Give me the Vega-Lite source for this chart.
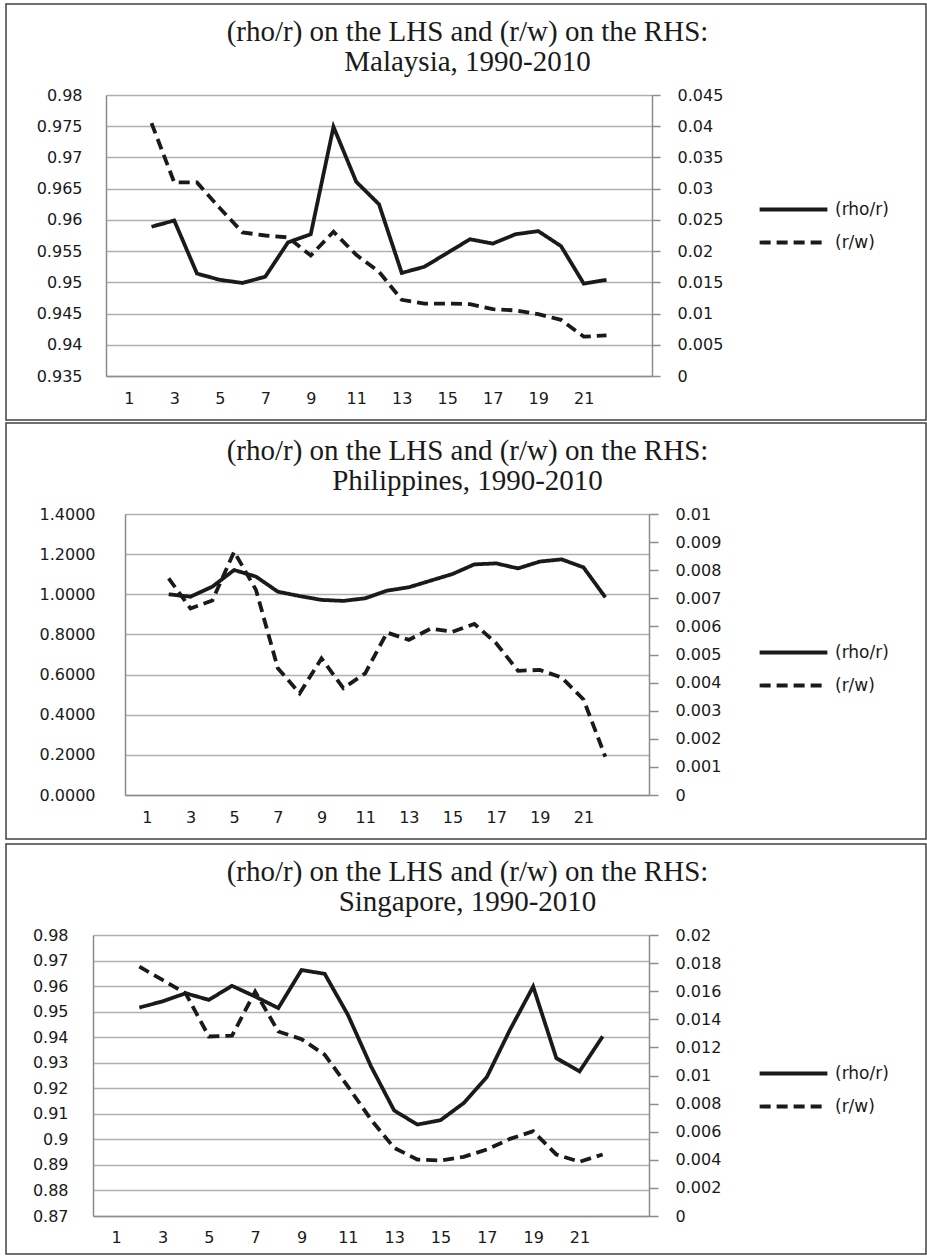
{
  "$schema": "https://vega.github.io/schema/vega-lite/v6.json",
  "padding": {"left": 5, "top": 3, "right": 0, "bottom": 0},
  "spacing": 1,
  "background": "white",
  "config": {
    "view": {"stroke": "#404040", "strokeWidth": 1.5},
    "axis": {"labelFont": "DejaVu Sans", "labelFontSize": 16, "labelColor": "#1a1a1a", "domainColor": "#8c8c8c", "domainWidth": 1.5, "gridColor": "#b0b0b0", "gridWidth": 1.3, "tickColor": "#8c8c8c", "tickWidth": 1.5, "titleFont": "Liberation Serif", "titleFontSize": 29, "titleFontWeight": "normal", "titleColor": "#1a1a1a", "titleLineHeight": 30},
    "legend": {"labelFont": "DejaVu Sans", "labelFontSize": 17, "labelColor": "#1a1a1a"}
  },
  "resolve": {"scale": {"strokeDash": "independent"}, "legend": {"strokeDash": "independent"}},
  "datasets": {
    "malaysia": [
      {"t": 2, "rho": 0.9589, "rw": 0.0405},
      {"t": 3, "rho": 0.9599, "rw": 0.0310},
      {"t": 4, "rho": 0.9514, "rw": 0.0310},
      {"t": 5, "rho": 0.9504, "rw": 0.0269},
      {"t": 6, "rho": 0.9499, "rw": 0.0230},
      {"t": 7, "rho": 0.9509, "rw": 0.0225},
      {"t": 8, "rho": 0.9564, "rw": 0.0222},
      {"t": 9, "rho": 0.9577, "rw": 0.0193},
      {"t": 10, "rho": 0.9749, "rw": 0.0231},
      {"t": 11, "rho": 0.9661, "rw": 0.0194},
      {"t": 12, "rho": 0.9625, "rw": 0.0167},
      {"t": 13, "rho": 0.9515, "rw": 0.0122},
      {"t": 14, "rho": 0.9525, "rw": 0.0116},
      {"t": 15, "rho": 0.9547, "rw": 0.0116},
      {"t": 16, "rho": 0.9569, "rw": 0.0115},
      {"t": 17, "rho": 0.9562, "rw": 0.0107},
      {"t": 18, "rho": 0.9577, "rw": 0.0105},
      {"t": 19, "rho": 0.9582, "rw": 0.0099},
      {"t": 20, "rho": 0.9558, "rw": 0.0090},
      {"t": 21, "rho": 0.9498, "rw": 0.0063},
      {"t": 22, "rho": 0.9504, "rw": 0.0065}
    ],
    "philippines": [
      {"t": 2, "rho": 1.000, "rw": 0.00771},
      {"t": 3, "rho": 0.988, "rw": 0.00664},
      {"t": 4, "rho": 1.038, "rw": 0.00692},
      {"t": 5, "rho": 1.121, "rw": 0.00866},
      {"t": 6, "rho": 1.088, "rw": 0.00730},
      {"t": 7, "rho": 1.013, "rw": 0.00451},
      {"t": 8, "rho": 0.991, "rw": 0.00362},
      {"t": 9, "rho": 0.972, "rw": 0.00486},
      {"t": 10, "rho": 0.967, "rw": 0.00380},
      {"t": 11, "rho": 0.980, "rw": 0.00433},
      {"t": 12, "rho": 1.018, "rw": 0.00578},
      {"t": 13, "rho": 1.035, "rw": 0.00552},
      {"t": 14, "rho": 1.068, "rw": 0.00592},
      {"t": 15, "rho": 1.101, "rw": 0.00581},
      {"t": 16, "rho": 1.149, "rw": 0.00609},
      {"t": 17, "rho": 1.154, "rw": 0.00540},
      {"t": 18, "rho": 1.129, "rw": 0.00442},
      {"t": 19, "rho": 1.163, "rw": 0.00445},
      {"t": 20, "rho": 1.174, "rw": 0.00418},
      {"t": 21, "rho": 1.134, "rw": 0.00340},
      {"t": 22, "rho": 0.985, "rw": 0.00136}
    ],
    "singapore": [
      {"t": 2, "rho": 0.9516, "rw": 0.01775},
      {"t": 3, "rho": 0.9540, "rw": 0.01680},
      {"t": 4, "rho": 0.9572, "rw": 0.01585},
      {"t": 5, "rho": 0.9546, "rw": 0.01278},
      {"t": 6, "rho": 0.9601, "rw": 0.01283},
      {"t": 7, "rho": 0.9559, "rw": 0.01597},
      {"t": 8, "rho": 0.9514, "rw": 0.01313},
      {"t": 9, "rho": 0.9663, "rw": 0.01259},
      {"t": 10, "rho": 0.9648, "rw": 0.01148},
      {"t": 11, "rho": 0.9488, "rw": 0.00923},
      {"t": 12, "rho": 0.9286, "rw": 0.00686},
      {"t": 13, "rho": 0.9113, "rw": 0.00485},
      {"t": 14, "rho": 0.9058, "rw": 0.00402},
      {"t": 15, "rho": 0.9075, "rw": 0.00395},
      {"t": 16, "rho": 0.9142, "rw": 0.00421},
      {"t": 17, "rho": 0.9244, "rw": 0.00473},
      {"t": 18, "rho": 0.9429, "rw": 0.00549},
      {"t": 19, "rho": 0.9598, "rw": 0.00603},
      {"t": 20, "rho": 0.9318, "rw": 0.00438},
      {"t": 21, "rho": 0.9266, "rw": 0.00386},
      {"t": 22, "rho": 0.9403, "rw": 0.00438}
    ]
  },
  "vconcat": [
    {
      "width": 920, "height": 416,
      "data": {"name": "malaysia"},
      "resolve": {"scale": {"y": "independent"}},
      "layer": [
        {
          "mark": {"type": "line", "color": "#1a1a1a", "strokeWidth": 3.8},
          "encoding": {
            "x": {"field": "t", "type": "quantitative", "scale": {"domain": [0.5, 22.5], "range": [100, 646]}, "axis": {"orient": "bottom", "offset": -44, "values": [1,3,5,7,9,11,13,15,17,19,21], "ticks": false, "labelPadding": 14, "grid": false, "title": null}},
            "y": {"field": "rho", "type": "quantitative", "scale": {"domain": [0.935, 0.98], "range": [372, 91], "zero": false, "nice": false}, "axis": {"orient": "left", "offset": -100, "values": [0.935,0.94,0.945,0.95,0.955,0.96,0.965,0.97,0.975,0.98], "format": "~g", "ticks": false, "labelPadding": 24, "grid": true, "title": ["(rho/r) on the LHS and (r/w) on the RHS:", "Malaysia, 1990-2010"], "titleAngle": 0, "titleX": 361, "titleY": 13, "titleAlign": "center", "titleBaseline": "top"}},
            "strokeDash": {"datum": "(rho/r)", "type": "nominal", "scale": {"domain": ["(rho/r)", "(r/w)"], "range": [[1, 0], [11, 6]]}, "legend": {"orient": "none", "legendX": 779, "legendY": 197, "title": null, "symbolType": "M-30,0H30", "symbolSize": 5.1, "symbolStrokeWidth": 3.8, "symbolStrokeColor": "#1a1a1a", "labelOffset": 33, "rowPadding": 15, "padding": 0}}
          }
        },
        {
          "mark": {"type": "line", "color": "#1a1a1a", "strokeWidth": 3.8},
          "encoding": {
            "x": {"field": "t", "type": "quantitative"},
            "y": {"field": "rw", "type": "quantitative", "scale": {"domain": [0, 0.045], "range": [372, 91], "zero": false, "nice": false}, "axis": {"orient": "right", "offset": -274, "values": [0,0.005,0.01,0.015,0.02,0.025,0.03,0.035,0.04,0.045], "format": "~g", "ticks": true, "tickSize": 8, "labelPadding": 17, "grid": false, "title": null}},
            "strokeDash": {"datum": "(r/w)", "type": "nominal"}
          }
        }
      ]
    },
    {
      "spacing": 3,
      "resolve": {"scale": {"strokeDash": "independent"}, "legend": {"strokeDash": "independent"}},
      "vconcat": [
        {
          "width": 920, "height": 416,
          "data": {"name": "philippines"},
          "resolve": {"scale": {"y": "independent"}},
          "layer": [
            {
              "mark": {"type": "line", "color": "#1a1a1a", "strokeWidth": 3.8},
              "encoding": {
                "x": {"field": "t", "type": "quantitative", "scale": {"domain": [0.5, 22.5], "range": [119, 643]}, "axis": {"orient": "bottom", "offset": -44, "values": [1,3,5,7,9,11,13,15,17,19,21], "ticks": false, "labelPadding": 14, "grid": false, "title": null}},
                "y": {"field": "rho", "type": "quantitative", "scale": {"domain": [0, 1.4], "range": [372, 91], "zero": false, "nice": false}, "axis": {"orient": "left", "offset": -119, "values": [0,0.2,0.4,0.6,0.8,1,1.2,1.4], "format": ".4f", "ticks": false, "labelPadding": 30, "grid": true, "title": ["(rho/r) on the LHS and (r/w) on the RHS:", "Philippines, 1990-2010"], "titleAngle": 0, "titleX": 342, "titleY": 13, "titleAlign": "center", "titleBaseline": "top"}},
                "strokeDash": {"datum": "(rho/r)", "type": "nominal", "scale": {"domain": ["(rho/r)", "(r/w)"], "range": [[1, 0], [11, 6]]}, "legend": {"orient": "none", "legendX": 779, "legendY": 221, "title": null, "symbolType": "M-30,0H30", "symbolSize": 5.1, "symbolStrokeWidth": 3.8, "symbolStrokeColor": "#1a1a1a", "labelOffset": 33, "rowPadding": 15, "padding": 0}}
              }
            },
            {
              "mark": {"type": "line", "color": "#1a1a1a", "strokeWidth": 3.8},
              "encoding": {
                "x": {"field": "t", "type": "quantitative"},
                "y": {"field": "rw", "type": "quantitative", "scale": {"domain": [0, 0.01], "range": [372, 91], "zero": false, "nice": false}, "axis": {"orient": "right", "offset": -277, "values": [0,0.001,0.002,0.003,0.004,0.005,0.006,0.007,0.008,0.009,0.01], "format": "~g", "ticks": true, "tickSize": 9, "labelPadding": 17, "grid": false, "title": null}},
                "strokeDash": {"datum": "(r/w)", "type": "nominal"}
              }
            }
          ]
        },
        {
          "width": 920, "height": 410,
          "data": {"name": "singapore"},
          "resolve": {"scale": {"y": "independent"}},
          "layer": [
            {
              "mark": {"type": "line", "color": "#1a1a1a", "strokeWidth": 3.8},
              "encoding": {
                "x": {"field": "t", "type": "quantitative", "scale": {"domain": [0.5, 22.5], "range": [87, 643]}, "axis": {"orient": "bottom", "offset": -38, "values": [1,3,5,7,9,11,13,15,17,19,21], "ticks": false, "labelPadding": 13, "grid": false, "title": null}},
                "y": {"field": "rho", "type": "quantitative", "scale": {"domain": [0.87, 0.98], "range": [372, 91], "zero": false, "nice": false}, "axis": {"orient": "left", "offset": -87, "values": [0.87,0.88,0.89,0.9,0.91,0.92,0.93,0.94,0.95,0.96,0.97,0.98], "format": "~g", "ticks": false, "labelPadding": 25, "grid": true, "title": ["(rho/r) on the LHS and (r/w) on the RHS:", "Singapore, 1990-2010"], "titleAngle": 0, "titleX": 374, "titleY": 13, "titleAlign": "center", "titleBaseline": "top"}},
                "strokeDash": {"datum": "(rho/r)", "type": "nominal", "scale": {"domain": ["(rho/r)", "(r/w)"], "range": [[1, 0], [11, 6]]}, "legend": {"orient": "none", "legendX": 779, "legendY": 221, "title": null, "symbolType": "M-30,0H30", "symbolSize": 5.1, "symbolStrokeWidth": 3.8, "symbolStrokeColor": "#1a1a1a", "labelOffset": 33, "rowPadding": 15, "padding": 0}}
              }
            },
            {
              "mark": {"type": "line", "color": "#1a1a1a", "strokeWidth": 3.8},
              "encoding": {
                "x": {"field": "t", "type": "quantitative"},
                "y": {"field": "rw", "type": "quantitative", "scale": {"domain": [0, 0.02], "range": [372, 91], "zero": false, "nice": false}, "axis": {"orient": "right", "offset": -277, "values": [0,0.002,0.004,0.006,0.008,0.01,0.012,0.014,0.016,0.018,0.02], "format": "~g", "ticks": true, "tickSize": 9, "labelPadding": 17, "grid": false, "title": null}},
                "strokeDash": {"datum": "(r/w)", "type": "nominal"}
              }
            }
          ]
        }
      ]
    }
  ]
}
